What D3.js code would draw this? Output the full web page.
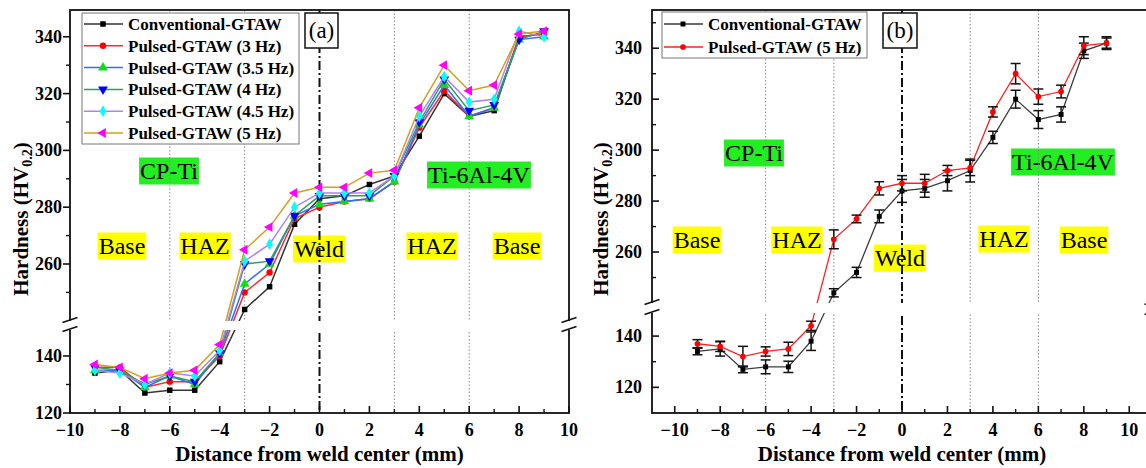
<!DOCTYPE html>
<html><head><meta charset="utf-8">
<script src="https://cdn.jsdelivr.net/npm/d3@7"></script>
<style>body{margin:0;background:#fff}svg{display:block}text{font-family:'Liberation Serif','Times New Roman','DejaVu Serif',serif}</style>
</head><body><svg id="c" width="1146" height="468" font-family="Liberation Serif, Times New Roman, DejaVu Serif, serif"></svg>
<script>
// ---------------- data ----------------
const distance = [-9,-8,-7,-6,-5,-4,-3,-2,-1,0,1,2,3,4,5,6,7,8,9];
const convA = [134,135,127,128,128,138,244,252,274,283,284,288,291,305,320,312,314,340,341];
const hz3A  = [136,136,129,131,131,140,250,257,276,280,282,283,289,308,321,312,315,340,341];
const hz35A = [135,135,129,133,130,141,253,260,277,281,282,283,289,309,323,312,315,339,340];
const hz4A  = [136,135,130,133,131,141,260,261,277,284,284,284,291,310,325,314,316,339,342];
const hz45A = [135,134,130,134,133,142,261,267,280,285,285,285,291,312,326,317,318,342,340];
const hz5A  = [137,136,132,134,135,144,265,273,285,287,287,292,293,315,330,321,323,341,342];
const convB    = [134,135,127,128,128,138,244,252,274,284,285,288,292,305,320,312,314,339,342];
const convBErr = [1.3,2.8,1.3,2.7,2.2,3.6,1.6,2,2.5,4.5,3.5,4,4.5,2.4,3.5,3.5,3,3,2];
const hz5B     = [137,136,132,134,135,144,265,273,285,287,287,292,293,315,330,321,323,341,342];
const hz5BErr  = [1.6,2,4,1.8,2.6,1.8,3.7,1.5,2.6,3,3.5,2,3,2,4,3,2.5,3.5,2.5];
const seriesNamesA = ["Conventional-GTAW","Pulsed-GTAW (3 Hz)","Pulsed-GTAW (3.5 Hz)","Pulsed-GTAW (4 Hz)","Pulsed-GTAW (4.5 Hz)","Pulsed-GTAW (5 Hz)"];
const seriesNamesB = ["Conventional-GTAW","Pulsed-GTAW (5 Hz)"];
const xMajorTicks = [-10,-8,-6,-4,-2,0,2,4,6,8,10];
const xMinorTicks = [-9,-7,-5,-3,-1,1,3,5,7,9];
const yMajorTicks = [120,140,260,280,300,320,340];
const yMinorTicksA = [130,250,270,290,310,330];
const yMinorTicksB = [130,250,270,290,310,330,350];
const zoneLines = [-6,-3,3,6];
const xTitle = "Distance from weld center (mm)";

const FONT = "'Liberation Serif','Times New Roman','DejaVu Serif',serif";
const svg = d3.select('#c');
const sym = {
  square: d3.symbol().type(d3.symbolSquare).size(30),
  circle: d3.symbol().type(d3.symbolCircle).size(32),
  tri: d3.symbol().type(d3.symbolTriangle).size(42),
  diamond: d3.symbol().type(d3.symbolDiamond).size(40)
};
function marker(g, kind, cx, cy, fill, scale) {
  let gen = sym.square, rot = 0;
  if (kind==='circle') gen = sym.circle;
  if (kind==='tup') gen = sym.tri;
  if (kind==='tdown') { gen = sym.tri; rot = 180; }
  if (kind==='tleft') { gen = sym.tri; rot = -90; }
  if (kind==='diamond') gen = sym.diamond;
  g.append('path').attr('d', gen()).attr('fill', fill)
    .attr('transform', `translate(${cx},${cy}) rotate(${rot}) scale(${scale||1})`);
}
function txt(g) { return g.append('text').style('font-family', FONT); }

function drawPanel(p) {
  const g = svg.append('g');
  const x = d3.scaleLinear().domain(p.xDomain).range([p.x0, p.x1]);
  const y = d3.scaleLinear().domain(p.yDomain).range(p.yRange);

  // region labels
  p.labels.forEach(l => {
    const t = txt(g).attr('x', l.x).attr('y', l.y + 8).attr('text-anchor','middle')
      .attr('font-size', 24).text(l.text);
    const w = t.node().getComputedTextLength();
    g.insert('rect', () => t.node()).attr('x', l.x - w/2 - 1).attr('y', l.y - 13.5)
      .attr('width', w + 2).attr('height', 27).attr('fill', l.bg);
  });
  // zone dotted lines
  zoneLines.forEach(v => g.append('line').attr('x1', x(v)).attr('x2', x(v))
    .attr('y1', p.yTop).attr('y2', p.yBot).attr('stroke', '#8a8a8a').attr('stroke-width', 1)
    .attr('stroke-dasharray', '1.5,2'));
  // weld center dash-dot
  g.append('line').attr('x1', x(0)).attr('x2', x(0)).attr('y1', p.yTop).attr('y2', p.yBot)
    .attr('stroke', '#111').attr('stroke-width', 2).attr('stroke-dasharray', '9,3,2,3');

  // series
  const line = d3.line().x((d,i) => x(distance[i])).y(d => y(d));
  p.series.forEach(s => {
    g.append('path').datum(s.values).attr('d', line).attr('fill','none')
      .attr('stroke', s.line).attr('stroke-width', p.lw);
    if (s.err) {
      s.values.forEach((v,i) => {
        const cx = x(distance[i]), yt = y(v + s.err[i]), yb = y(v - s.err[i]);
        g.append('line').attr('x1',cx).attr('x2',cx).attr('y1',yt).attr('y2',yb).attr('stroke','#111').attr('stroke-width',1.5);
        [yt,yb].forEach(yy => g.append('line').attr('x1',cx-5).attr('x2',cx+5).attr('y1',yy).attr('y2',yy).attr('stroke','#111').attr('stroke-width',1.5));
      });
    }
    s.values.forEach((v,i) => marker(g, s.shape, x(distance[i]), y(v), s.marker, p.ms));
  });

  // frame
  g.append('rect').attr('x', p.x0).attr('y', p.yTop).attr('width', p.x1 - p.x0).attr('height', p.yBot - p.yTop)
    .attr('fill','none').attr('stroke','#111').attr('stroke-width',1.8);
  // x ticks (inward)
  xMajorTicks.forEach(v => {
    g.append('line').attr('x1',x(v)).attr('x2',x(v)).attr('y1',p.yBot).attr('y2',p.yBot-7).attr('stroke','#111').attr('stroke-width',1.6);
    txt(g).attr('x', x(v)).attr('y', 436).attr('text-anchor','middle').attr('font-size',18)
      .attr('font-weight','bold').text(d3.format('d')(v));
  });
  xMinorTicks.forEach(v => g.append('line').attr('x1',x(v)).attr('x2',x(v)).attr('y1',p.yBot).attr('y2',p.yBot-4).attr('stroke','#111').attr('stroke-width',1.4));
  // y ticks
  const dir = p.yTickOut ? -1 : 1;
  yMajorTicks.forEach(v => {
    g.append('line').attr('x1',p.x0).attr('x2',p.x0 + dir*7).attr('y1',y(v)).attr('y2',y(v)).attr('stroke','#111').attr('stroke-width',1.6);
    txt(g).attr('x', p.yLabelX).attr('y', y(v) + 6).attr('text-anchor','end').attr('font-size',18)
      .attr('font-weight','bold').text(v);
  });
  p.yMinor.forEach(v => g.append('line').attr('x1',p.x0).attr('x2',p.x0 + dir*4).attr('y1',y(v)).attr('y2',y(v)).attr('stroke','#111').attr('stroke-width',1.4));

  // axis break
  g.append('rect').attr('x', p.x0 - 2).attr('y', p.breakTop).attr('width', p.x1 - p.x0 + 4)
    .attr('height', p.breakBot - p.breakTop).attr('fill','#fff');
  [p.x0, p.x1].forEach(ax => {
    [p.breakTop - 1, p.breakBot - 1].forEach(cy => g.append('line').attr('x1', ax - 7.5).attr('x2', ax + 7.5)
      .attr('y1', cy + 2.5).attr('y2', cy - 2.5).attr('stroke','#111').attr('stroke-width',1.6));
  });

  // axis titles
  txt(g).attr('x', (x(-10)+x(10))/2).attr('y', 461).attr('text-anchor','middle')
    .attr('font-size',21).attr('font-weight','bold').text(xTitle);
  const yt = txt(g).attr('transform', `translate(${p.yTitleX},219) rotate(-90)`)
    .attr('text-anchor','middle').attr('font-size',21).attr('font-weight','bold');
  yt.append('tspan').text('Hardness (HV');
  yt.append('tspan').attr('font-size',14).attr('dy',4).text('0.2');
  yt.append('tspan').attr('dy',-4).text(')');

  // legend
  const L = p.legend;
  g.append('rect').attr('x', L.x).attr('y', L.y).attr('width', L.w).attr('height', L.h)
    .attr('fill','#fff').attr('stroke','#777').attr('stroke-width',1);
  p.series.forEach((s,i) => {
    const ry = L.row0 + i*L.step;
    g.append('line').attr('x1', L.x + 2).attr('x2', L.x + 41).attr('y1', ry).attr('y2', ry)
      .attr('stroke', s.line).attr('stroke-width', p.lw);
    marker(g, s.shape, L.x + 21, ry, s.marker, p.ms);
    txt(g).attr('x', L.x + 46).attr('y', ry + 6).attr('font-size',17).attr('font-weight','bold').text(s.name);
  });
  // panel tag
  g.append('rect').attr('x', p.tag.x).attr('y', 13).attr('width', p.tag.w).attr('height', 35)
    .attr('fill','#fff').attr('stroke','#111').attr('stroke-width',1.5);
  txt(g).attr('x', p.tag.x + p.tag.w/2).attr('y', 38).attr('text-anchor','middle')
    .attr('font-size',23).text(p.tag.text);
}

drawPanel({
  x0: 70, x1: 569, yTop: 10, yBot: 413,
  xDomain: [-10, 10],
  yDomain: [120, 149, 240, 349.5], yRange: [413, 330.3, 320.8, 9.8],
  breakTop: 321, breakBot: 330,
  lw: 1.5, ms: 1, yTickOut: true, yLabelX: 62, yMinor: yMinorTicksA, yTitleX: 28,
  series: [
    {name: seriesNamesA[0], values: convA, line: '#333', marker: '#000', shape: 'square'},
    {name: seriesNamesA[1], values: hz3A, line: '#ff2a2a', marker: '#ff0000', shape: 'circle'},
    {name: seriesNamesA[2], values: hz35A, line: '#2f6fff', marker: '#11dd11', shape: 'tup'},
    {name: seriesNamesA[3], values: hz4A, line: '#2e9e5e', marker: '#0000ff', shape: 'tdown'},
    {name: seriesNamesA[4], values: hz45A, line: '#b283e8', marker: '#00ffff', shape: 'diamond'},
    {name: seriesNamesA[5], values: hz5A, line: '#d4a01c', marker: '#ff00ff', shape: 'tleft'}
  ],
  labels: [
    {text: 'CP-Ti', x: 169, y: 171, bg: '#22ee22'},
    {text: 'Ti-6Al-4V', x: 479, y: 175, bg: '#22ee22'},
    {text: 'Base', x: 122, y: 246, bg: '#ffff00'},
    {text: 'HAZ', x: 205, y: 246, bg: '#ffff00'},
    {text: 'Weld', x: 319, y: 249, bg: '#ffff00'},
    {text: 'HAZ', x: 432, y: 246, bg: '#ffff00'},
    {text: 'Base', x: 517, y: 246, bg: '#ffff00'}
  ],
  legend: {x: 82, y: 13, w: 217, h: 131, row0: 24, step: 21.8},
  tag: {x: 305, w: 33, text: '(a)'}
});

drawPanel({
  x0: 652, x1: 1152, yTop: 10, yBot: 413,
  xDomain: [-11, 11],
  yDomain: [110, 149, 240, 355], yRange: [413, 313, 303, 10],
  breakTop: 303, breakBot: 313,
  lw: 1.3, ms: 0.9, yTickOut: false, yLabelX: 642, yMinor: yMinorTicksB, yTitleX: 608,
  series: [
    {name: seriesNamesB[0], values: convB, err: convBErr, line: '#3a3a3a', marker: '#000', shape: 'square'},
    {name: seriesNamesB[1], values: hz5B, err: hz5BErr, line: '#ff2020', marker: '#ff0000', shape: 'circle'}
  ],
  labels: [
    {text: 'CP-Ti', x: 754, y: 153, bg: '#22ee22'},
    {text: 'Ti-6Al-4V', x: 1063, y: 162, bg: '#22ee22'},
    {text: 'Base', x: 697, y: 240, bg: '#ffff00'},
    {text: 'HAZ', x: 797, y: 240, bg: '#ffff00'},
    {text: 'Weld', x: 900, y: 258, bg: '#ffff00'},
    {text: 'HAZ', x: 1004, y: 239, bg: '#ffff00'},
    {text: 'Base', x: 1084, y: 240, bg: '#ffff00'}
  ],
  legend: {x: 662, y: 12, w: 205, h: 46, row0: 24, step: 23},
  tag: {x: 883, w: 34, text: '(b)'}
});
</script></body></html>
